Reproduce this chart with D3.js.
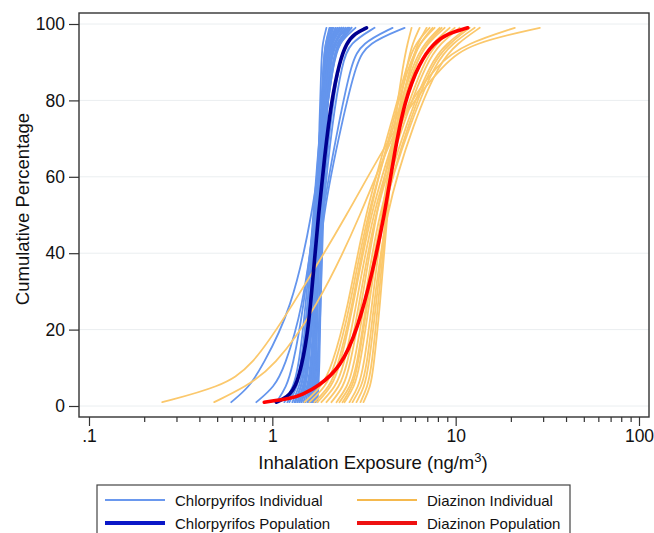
<!DOCTYPE html>
<html><head><meta charset="utf-8">
<script src="https://cdn.jsdelivr.net/npm/d3@7"></script>
<style>
html,body{margin:0;padding:0;background:#fff;}
svg{display:block;font-family:"Liberation Sans",Arial,Helvetica,sans-serif;}
</style></head>
<body><svg id="chart" width="654" height="533"></svg>
<script>
// ---- data (exposure values in ng/m3 at cumulative percentages) ----
const indivPct = [1, 5, 10, 25, 50, 75, 90, 95, 99];
const popPct = [1, 2, 3, 5, 10, 20, 35, 50, 65, 80, 90, 95, 97.5, 99];

const chlorpyrifosIndividual = [
  [1.634,1.675,1.696,1.718,1.762,1.806,1.852,1.876,1.973],
  [1.675,1.718,1.740,1.762,1.806,1.852,1.899,1.948,2.049],
  [1.718,1.762,1.784,1.806,1.852,1.899,1.948,1.998,2.101],
  [1.593,1.654,1.675,1.718,1.784,1.852,1.924,1.973,2.128],
  [1.553,1.613,1.654,1.696,1.762,1.829,1.899,1.948,2.075],
  [1.696,1.740,1.762,1.806,1.876,1.948,2.023,2.075,2.210],
  [1.762,1.784,1.806,1.829,1.876,1.924,1.973,2.023,2.154],
  [1.515,1.593,1.634,1.696,1.762,1.852,1.948,2.023,2.210],
  [1.654,1.696,1.718,1.762,1.829,1.924,2.023,2.101,2.323],
  [1.613,1.675,1.696,1.740,1.806,1.899,1.973,2.049,2.266],
  [1.573,1.634,1.675,1.718,1.806,1.899,1.998,2.075,2.382],
  [1.718,1.762,1.784,1.829,1.899,1.973,2.075,2.154,2.443],
  [1.319,1.440,1.496,1.593,1.718,1.852,1.973,2.049,2.266],
  [1.239,1.369,1.440,1.553,1.696,1.829,1.948,2.049,2.323],
  [1.369,1.477,1.534,1.634,1.762,1.924,2.075,2.182,2.506],
  [1.163,1.302,1.387,1.515,1.675,1.829,1.998,2.128,2.570],
  [1.404,1.496,1.553,1.654,1.784,1.948,2.128,2.266,2.703],
  [1.286,1.404,1.477,1.593,1.740,1.924,2.128,2.295,2.842],
  [1.208,1.352,1.422,1.553,1.718,1.899,2.075,2.210,2.635],
  [1.440,1.515,1.573,1.654,1.762,1.876,1.998,2.101,2.382],
  [1.336,1.440,1.515,1.613,1.740,1.899,2.049,2.154,2.443],
  [0.597,0.749,0.871,1.270,1.654,1.948,2.154,2.323,2.703],
  [0.818,1.026,1.163,1.458,1.718,1.948,2.154,2.295,2.570],
  [1.052,1.193,1.286,1.477,1.696,1.924,2.128,2.266,2.602],
  [1.404,1.515,1.573,1.675,1.876,2.413,2.877,3.304,5.264],
  [1.369,1.477,1.553,1.654,1.852,2.323,2.703,3.064,4.526],
  [1.477,1.573,1.634,1.718,1.876,2.128,2.413,2.635,3.609],
  [1.440,1.553,1.613,1.696,1.852,2.075,2.323,2.506,3.182]
];

const diazinonIndividual = [
  [1.496,1.852,2.101,2.570,3.182,4.526,5.467,6.045,7.210],
  [1.593,1.948,2.182,2.635,3.263,4.700,5.895,6.770,8.178],
  [1.762,2.101,2.323,2.736,3.389,4.943,6.358,7.487,9.274],
  [1.852,2.210,2.443,2.842,3.475,5.133,6.686,7.874,9.875],
  [1.973,2.323,2.537,2.951,3.564,5.264,6.944,8.279,10.52],
  [2.101,2.443,2.635,3.026,3.654,4.820,6.045,7.031,8.709],
  [2.238,2.570,2.771,3.142,3.747,5.467,7.302,8.930,11.63],
  [2.323,2.669,2.877,3.222,3.843,5.749,7.775,9.630,12.70],
  [2.474,2.806,2.988,3.346,3.941,4.760,5.749,6.358,7.487],
  [2.635,2.951,3.142,3.475,3.991,4.943,6.045,6.944,8.386],
  [2.736,3.064,3.263,3.564,4.093,5.970,8.178,10.25,13.53],
  [2.877,3.182,3.346,3.654,4.144,4.820,5.749,6.200,6.944],
  [3.026,3.304,3.475,3.747,4.198,4.760,5.467,5.821,6.358],
  [3.142,3.431,3.564,3.843,4.250,4.642,5.198,5.467,5.749],
  [1.696,2.049,2.266,2.703,3.346,4.584,5.606,6.358,7.678],
  [2.413,2.736,2.914,3.263,3.892,5.606,7.487,9.274,11.93],
  [0.251,0.520,0.768,1.239,2.570,4.881,8.709,12.23,28.77],
  [0.482,0.712,1.013,1.718,3.064,4.820,7.974,11.63,21.01]
];

const chlorpyrifosPopulation = [1.052,1.163,1.239,1.336,1.440,1.573,1.675,1.784,1.924,2.101,2.323,2.537,2.806,3.263];
const diazinonPopulation = [0.904,1.286,1.458,1.762,2.353,2.914,3.519,4.093,4.584,5.264,6.358,7.583,9.04,11.63];

const xTickValues = [0.1, 1, 10, 100];
const xTickLabels = [".1", "1", "10", "100"];
const yTickValues = [0, 20, 40, 60, 80, 100];

const legendItems = [
  {label: "Chlorpyrifos Individual", color: "#6a98ee", width: 2},
  {label: "Diazinon Individual", color: "#f5b94e", width: 2},
  {label: "Chlorpyrifos Population", color: "#0a18c8", width: 4},
  {label: "Diazinon Population", color: "#ee1111", width: 4}
];

// ---- drawing ----
const svg = d3.select("#chart");
const frame = {left: 79, right: 649, top: 13, bottom: 417};
const x = d3.scaleLog().domain([0.1, 100]).range([89, 639]);
const y = d3.scaleLinear().domain([0, 100]).range([406, 24]);

// grid
svg.append("g").selectAll("line").data(yTickValues).join("line")
  .attr("x1", frame.left).attr("x2", frame.right)
  .attr("y1", d => y(d)).attr("y2", d => y(d))
  .attr("stroke", "#eaeef0").attr("stroke-width", 1);

const line = d3.line().x(d => x(d[0])).y(d => y(d[1])).curve(d3.curveBasis);
const toPts = (vals, pcts) => vals.map((v, i) => [v, pcts[i]]);

const lines = svg.append("g").attr("fill", "none").attr("stroke-linecap", "round");
lines.selectAll("path.ci").data(chlorpyrifosIndividual).join("path")
  .attr("class", "ci").attr("d", d => line(toPts(d, indivPct)))
  .attr("stroke", "#6495ed").attr("stroke-width", 1.8);
lines.selectAll("path.di").data(diazinonIndividual).join("path")
  .attr("class", "di").attr("d", d => line(toPts(d, indivPct)))
  .attr("stroke", "#fbc86c").attr("stroke-width", 1.8);
lines.append("path").attr("d", line(toPts(chlorpyrifosPopulation, popPct)))
  .attr("stroke", "#00008f").attr("stroke-width", 3.6);
lines.append("path").attr("d", line(toPts(diazinonPopulation, popPct)))
  .attr("stroke", "#ff0000").attr("stroke-width", 3.6);

// frame
svg.append("rect").attr("x", frame.left).attr("y", frame.top)
  .attr("width", frame.right - frame.left).attr("height", frame.bottom - frame.top)
  .attr("fill", "none").attr("stroke", "#333").attr("stroke-width", 1.4);

// x axis
const minor = [];
[0.1, 1, 10].forEach(d => { for (let k = 2; k <= 9; k++) minor.push(d * k); });
const xMajor = svg.append("g").attr("transform", `translate(0,${frame.bottom})`)
  .call(d3.axisBottom(x).tickValues(xTickValues).tickFormat((d, i) => xTickLabels[i]).tickSize(9).tickPadding(4).tickSizeOuter(0));
const xMinor = svg.append("g").attr("transform", `translate(0,${frame.bottom})`)
  .call(d3.axisBottom(x).tickValues(minor).tickFormat("").tickSize(5).tickSizeOuter(0));
const yAxis = svg.append("g").attr("transform", `translate(${frame.left},0)`)
  .call(d3.axisLeft(y).tickValues(yTickValues).tickSize(10).tickPadding(4).tickSizeOuter(0));
[xMajor, xMinor, yAxis].forEach(g => {
  g.select(".domain").remove();
  g.selectAll("line").attr("stroke", "#333").attr("stroke-width", 1.2);
  g.selectAll("text").attr("fill", "#111").style("font-size", "17.5px")
    .style("font-family", '"Liberation Sans", Arial, sans-serif');
});

// axis titles
const xt = svg.append("text").attr("x", 373).attr("y", 469).attr("text-anchor", "middle")
  .style("font-size", "18.5px").attr("fill", "#111");
xt.append("tspan").text("Inhalation Exposure (ng/m");
xt.append("tspan").text("3").attr("dy", -7).style("font-size", "13px");
xt.append("tspan").text(")").attr("dy", 7);

svg.append("text").attr("transform", "translate(29,209) rotate(-90)")
  .attr("text-anchor", "middle").style("font-size", "18.5px").attr("fill", "#111")
  .text("Cumulative Percentage");

// legend
const lg = svg.append("g");
lg.append("rect").attr("x", 97).attr("y", 485).attr("width", 473).attr("height", 60)
  .attr("fill", "#fff").attr("stroke", "#444").attr("stroke-width", 1.2);
const colX = [105, 357], rowY = [500, 523];
legendItems.forEach((it, i) => {
  const cx = colX[i % 2], cy = rowY[Math.floor(i / 2)];
  lg.append("line").attr("x1", cx).attr("x2", cx + 60).attr("y1", cy).attr("y2", cy)
    .attr("stroke", it.color).attr("stroke-width", it.width);
  lg.append("text").attr("x", cx + 70).attr("y", cy + 5.5).style("font-size", "15px")
    .attr("fill", "#111").text(it.label);
});
</script></body></html>
